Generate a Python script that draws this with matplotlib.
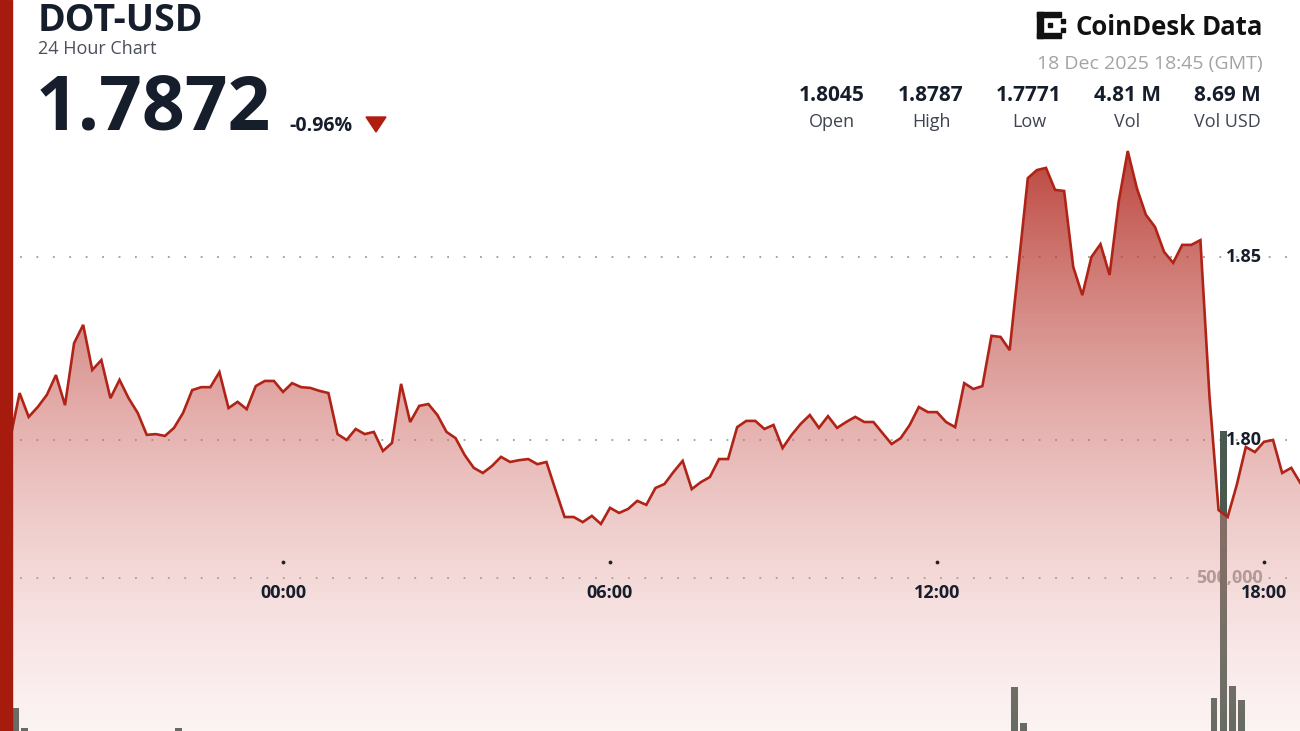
import numpy as np
import matplotlib.pyplot as plt
from matplotlib.patches import Rectangle, Polygon
from matplotlib.transforms import blended_transform_factory

plt.rcParams['font.family'] = ['Open Sans', 'DejaVu Sans']

W, H = 1300, 731

# 10 minute closes, 17 Dec 19:00 -> 18 Dec 18:40 (GMT)
prices = [
    1.8009, 1.8129, 1.8064, 1.8091, 1.8124, 1.8178, 1.8096, 1.8265, 1.8315, 1.8192,
    1.8219, 1.8115, 1.8165, 1.8115, 1.8075, 1.8015, 1.8017, 1.8012, 1.8034, 1.8075,
    1.8137, 1.8145, 1.8145, 1.8186, 1.8088, 1.8105, 1.8085, 1.8148, 1.8162, 1.8162,
    1.8132, 1.8156, 1.8145, 1.8143, 1.8135, 1.8129, 1.8017, 1.8001, 1.8031, 1.8017,
    1.8023, 1.7971, 1.7993, 1.8154, 1.8050, 1.8094, 1.8099, 1.8069, 1.8023, 1.8006,
    1.7960, 1.7925, 1.7911, 1.7930, 1.7955, 1.7941, 1.7946, 1.7949, 1.7935, 1.7941,
    1.7865, 1.7791, 1.7791, 1.7777, 1.7794, 1.7772, 1.7816, 1.7802, 1.7813, 1.7835,
    1.7824, 1.7870, 1.7881, 1.7914, 1.7944, 1.7867, 1.7886, 1.7900, 1.7949, 1.7949,
    1.8036, 1.8053, 1.8053, 1.8031, 1.8042, 1.7979, 1.8015, 1.8045, 1.8069, 1.8034,
    1.8066, 1.8034, 1.8050, 1.8064, 1.8050, 1.8050, 1.8020, 1.7990, 1.8006, 1.8042,
    1.8091, 1.8077, 1.8077, 1.8050, 1.8036, 1.8156, 1.8140, 1.8148, 1.8285, 1.8282,
    1.8246, 1.8481, 1.8715, 1.8737, 1.8743, 1.8683, 1.8680, 1.8473, 1.8396, 1.8500,
    1.8535, 1.8451, 1.8650, 1.8789, 1.8688, 1.8615, 1.8582, 1.8514, 1.8484, 1.8533,
    1.8533, 1.8546, 1.8120, 1.7810, 1.7791, 1.7878, 1.7982, 1.7968, 1.7996, 1.8001,
    1.7911, 1.7925, 1.7884,
]
start_hour = -5.0          # 19:00 the day before, in hours from 00:00
hours = start_hour + np.arange(len(prices)) / 6

# only the volume bars that reach above the bottom edge are visible
vol_hours = [-4.917, -4.75, -1.917, 13.417, 13.583, 17.083, 17.25, 17.417, 17.583]
vol_values = [178000, 129000, 129000, 230000, 141000, 203000, 864000, 233000, 198000]

tick_hours = [0, 6, 12, 18]
tick_labels = ['00:00', '06:00', '12:00', '18:00']
price_ticks = [1.80, 1.85]
price_labels = ['1.80', '1.85']
vol_tick = 500000

stat_values = ['1.8045', '1.8787', '1.7771', '4.81 M', '8.69 M']
stat_names = ['Open', 'High', 'Low', 'Vol', 'Vol USD']
stat_x = [832, 931, 1029, 1127, 1227]

RED = '#b02417'
DARK = '#161d2b'


def fx(px):
    return px / W


def fy(py):
    return 1 - py / H


fig = plt.figure(figsize=(13, 7.31), dpi=100)
axv = fig.add_axes([0, 0, 1, 1])   # volume, drawn underneath
ax = fig.add_axes([0, 0, 1, 1])    # price
for a in (axv, ax):
    a.set_axis_off()
    a.set_xlim(-5.193, 18.661)
ax.set_ylim(1.72074, 1.92008)
axv.set_ylim(121287, 1930693)

# dotted grid lines
dot = dict(color='#9c9c9c', lw=1.3, linestyle=(0, (1, 8.1)), zorder=0)
gtr = blended_transform_factory(axv.transAxes, ax.transData)
for p in price_ticks:
    axv.plot([0.015, 1], [p, p], transform=gtr, **dot)
axv.plot([0.015, 1], [vol_tick, vol_tick],
         transform=blended_transform_factory(axv.transAxes, axv.transData), **dot)

# price and volume labels sit behind the bars
ltr = blended_transform_factory(fig.transFigure, ax.transData)
for p, lab in zip(price_ticks, price_labels):
    axv.text(fx(1262), p, lab, transform=ltr, ha='right', va='center',
             fontsize=13, fontweight='bold', color=DARK, zorder=1)
axv.text(fx(1263), vol_tick, '500,000',
         transform=blended_transform_factory(fig.transFigure, axv.transData),
         ha='right', va='center', fontsize=13, fontweight='bold',
         color='#7d7d7d', alpha=0.75, zorder=1)

axv.bar(vol_hours, vol_values, width=0.128, color='#4b5a50', zorder=2)

# gradient area under the price line: dark red on top, pale and thin below
poly = ax.fill_between(hours, prices, 1.72074, color='none')
ny = 400
f = np.clip((np.linspace(0, H, ny) - 147) / 584, 0, 1)
top = np.array([175, 35, 25]) / 255
bottom = np.array([240, 190, 190]) / 255
grad = np.zeros((ny, 1, 4))
grad[:, 0, :3] = top + f[:, None] * (bottom - top)
grad[:, 0, 3] = 0.85 - 0.67 * f
im = ax.imshow(grad, extent=[-5.193, 18.661, 1.72074, 1.92008], origin='upper',
               aspect='auto', zorder=3, interpolation='bilinear')
im.set_clip_path(poly.get_paths()[0], transform=ax.transData)

ax.plot(hours, prices, color=RED, lw=1.9, zorder=4, solid_joinstyle='miter')

# time axis
ttr = blended_transform_factory(ax.transData, fig.transFigure)
ax.scatter(tick_hours, [fy(562)] * len(tick_hours), s=3, color='#222222',
           transform=ttr, zorder=5)
for t, lab in zip(tick_hours, tick_labels):
    ax.text(t, fy(593), lab, transform=ttr, ha='center', va='center',
            fontsize=13, fontweight='bold', color=DARK, zorder=5)

# header
fig.text(fx(38), fy(31), 'DOT-USD', fontsize=27, fontweight='bold', color=DARK, va='baseline')
fig.text(fx(38), fy(54), '24 Hour Chart', fontsize=13, color='#4a4f5a', va='baseline')
fig.text(fx(36), fy(130), '1.7872', fontsize=54, fontweight='bold', color=DARK, va='baseline')
fig.text(fx(289), fy(131), '-0.96%', fontsize=14, fontweight='bold', color=DARK, va='baseline')
fig.add_artist(Polygon([(fx(366), fy(117)), (fx(386), fy(117)), (fx(376), fy(132))],
                       closed=True, transform=fig.transFigure, color='#b01e10'))

# logo
fig.text(fx(1263), fy(35), 'Data', fontsize=18.5, fontweight='bold',
         color='#111111', ha='right', va='baseline')
fig.text(fx(1196), fy(35), 'CoinDesk', fontsize=18.5, fontweight='bold',
         color='#111111', ha='right', va='baseline')
for (x0, y0, w, h) in [(1037, 12, 6, 26), (1037, 12, 24, 5), (1037, 33, 24, 5)]:
    fig.add_artist(Rectangle((fx(x0), fy(y0 + h)), w / W, h / H,
                             transform=fig.transFigure, color='#111111'))
for (cx, cy) in [(1050, 25), (1063, 21), (1063, 30)]:
    fig.add_artist(Rectangle((fx(cx - 2), fy(cy + 2)), 4 / W, 4 / H,
                             transform=fig.transFigure, color='#111111'))
fig.text(fx(1263), fy(69), '18 Dec 2025 18:45 (GMT)', fontsize=14,
         color='#a3a3a3', ha='right', va='baseline')

for x, v, n in zip(stat_x, stat_values, stat_names):
    fig.text(fx(x), fy(101), v, fontsize=15, fontweight='bold', color=DARK,
             ha='center', va='baseline')
    fig.text(fx(x), fy(127), n, fontsize=13, color='#3e4450',
             ha='center', va='baseline')

# red strip on the left edge
fig.add_artist(Rectangle((0, 0), 12 / W, 1, transform=fig.transFigure,
                         color='#a61b0d', zorder=10))

fig.savefig('out.png', dpi=100, facecolor='white')
